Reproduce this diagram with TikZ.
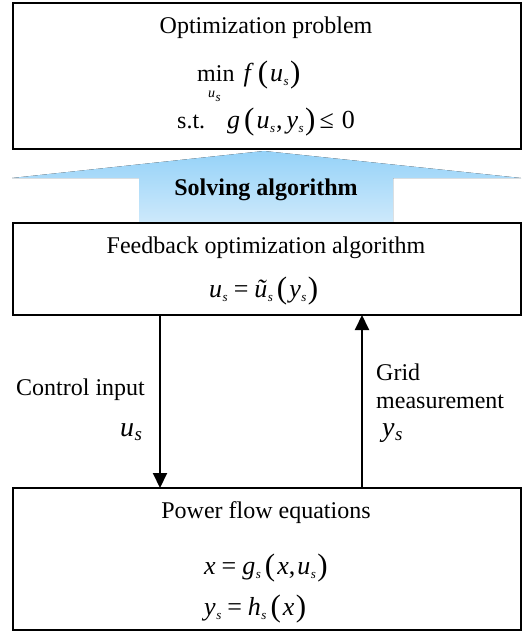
\documentclass[tikz,border=0pt]{standalone}
\usepackage{fontspec}
\setmainfont{Liberation Serif}
\usetikzlibrary{arrows.meta}
\definecolor{arrtop}{HTML}{95D2F8}
\definecolor{arrbot}{HTML}{CDE9FB}
\newcommand{\vs}[2]{\textit{#1}\kern0.5pt\raisebox{-4pt}{\fontsize{13}{13}\selectfont\textit{#2}}}
\newcommand{\lpar}{\kern4pt\raisebox{-1.5pt}{\fontsize{31}{31}\selectfont(}\kern2pt}
\newcommand{\rpar}{\kern1.5pt\raisebox{-1.5pt}{\fontsize{31}{31}\selectfont)}}
\newcommand{\eqs}{\kern6pt=\kern6pt}
\begin{document}
\begin{tikzpicture}[x=1pt,y=-1pt,
  boxst/.style={draw=black,line width=2.6pt},
  txt/.style={font=\fontsize{24}{28}\selectfont,inner sep=0pt,anchor=center},
  mtxt/.style={font=\fontsize{26}{30}\selectfont,inner sep=0pt,anchor=base west},
  lbl/.style={font=\fontsize{28}{32}\selectfont,inner sep=0pt,anchor=base west},
  conn/.style={line width=2pt,-{Triangle[length=15pt,width=14pt]}}]
\useasboundingbox (0,0) rectangle (529,633);
% Solving algorithm arrow
\fill[top color=arrtop,bottom color=arrbot] (139,222) -- (139,178) -- (12,178) -- (264,151) -- (521,178) -- (393,178) -- (393,222) -- cycle;
\node[txt,font=\fontsize{24}{28}\selectfont\bfseries] (solve) at (266,190) {Solving algorithm};
% top box
\draw[boxst] (13,3) rectangle (521,149);
\node[txt] (t1) at (266,28) {Optimization problem};
\node[mtxt] (t2) at (197,81) {{\fontsize{24}{28}\selectfont min}\kern9pt\textit{f}\lpar\vs{u}{s}\rpar};
\node[inner sep=0pt,font=\fontsize{14}{14}\selectfont,anchor=base west] (t2s) at (208,97) {\vs{u}{s}};
\node[mtxt] (t3) at (177,128) {{\fontsize{24}{28}\selectfont s.t.}\kern22pt\textit{g}\lpar\vs{u}{s}\kern1pt,\kern4pt\vs{y}{s}\rpar\kern4pt≤\kern8pt0};
% middle box
\draw[boxst] (13,223) rectangle (521,315);
\node[txt] (m1) at (266,248) {Feedback optimization algorithm};
\node[mtxt] (m2) at (209,297) {\vs{u}{s}\eqs\vs{\~u}{s}\lpar\vs{y}{s}\rpar};
% bottom box
\draw[boxst] (13,488) rectangle (521,630);
\node[txt] (b1) at (266,513) {Power flow equations};
\node[mtxt] (b2) at (204,574) {\textit{x}\eqs\vs{g}{s}\lpar\textit{x},\kern2pt\vs{u}{s}\rpar};
\node[mtxt] (b3) at (204,615) {\vs{y}{s}\eqs\vs{h}{s}\lpar\textit{x}\rpar};
% connectors
\coordinate (a1s) at (160,315);
\coordinate (a1e) at (160,488);
\coordinate (a2s) at (362,488);
\coordinate (a2e) at (362,315);
\draw[conn] (a1s) -- (a1e);
\draw[conn] (a2s) -- (a2e);
% labels
\node[txt,anchor=west] (ci) at (16,390) {Control input};
\node[lbl] (us) at (120,436) {\textit{u}\kern0.5pt\raisebox{-4pt}{\fontsize{19}{19}\selectfont\textit{s}}};
\node[txt,anchor=west] (gr) at (376,372) {Grid};
\node[txt,anchor=west] (gm) at (376,402) {measurement};
\node[lbl] (ys) at (382,436) {\textit{y}\kern0.5pt\raisebox{-4pt}{\fontsize{19}{19}\selectfont\textit{s}}};
\end{tikzpicture}
\end{document}
